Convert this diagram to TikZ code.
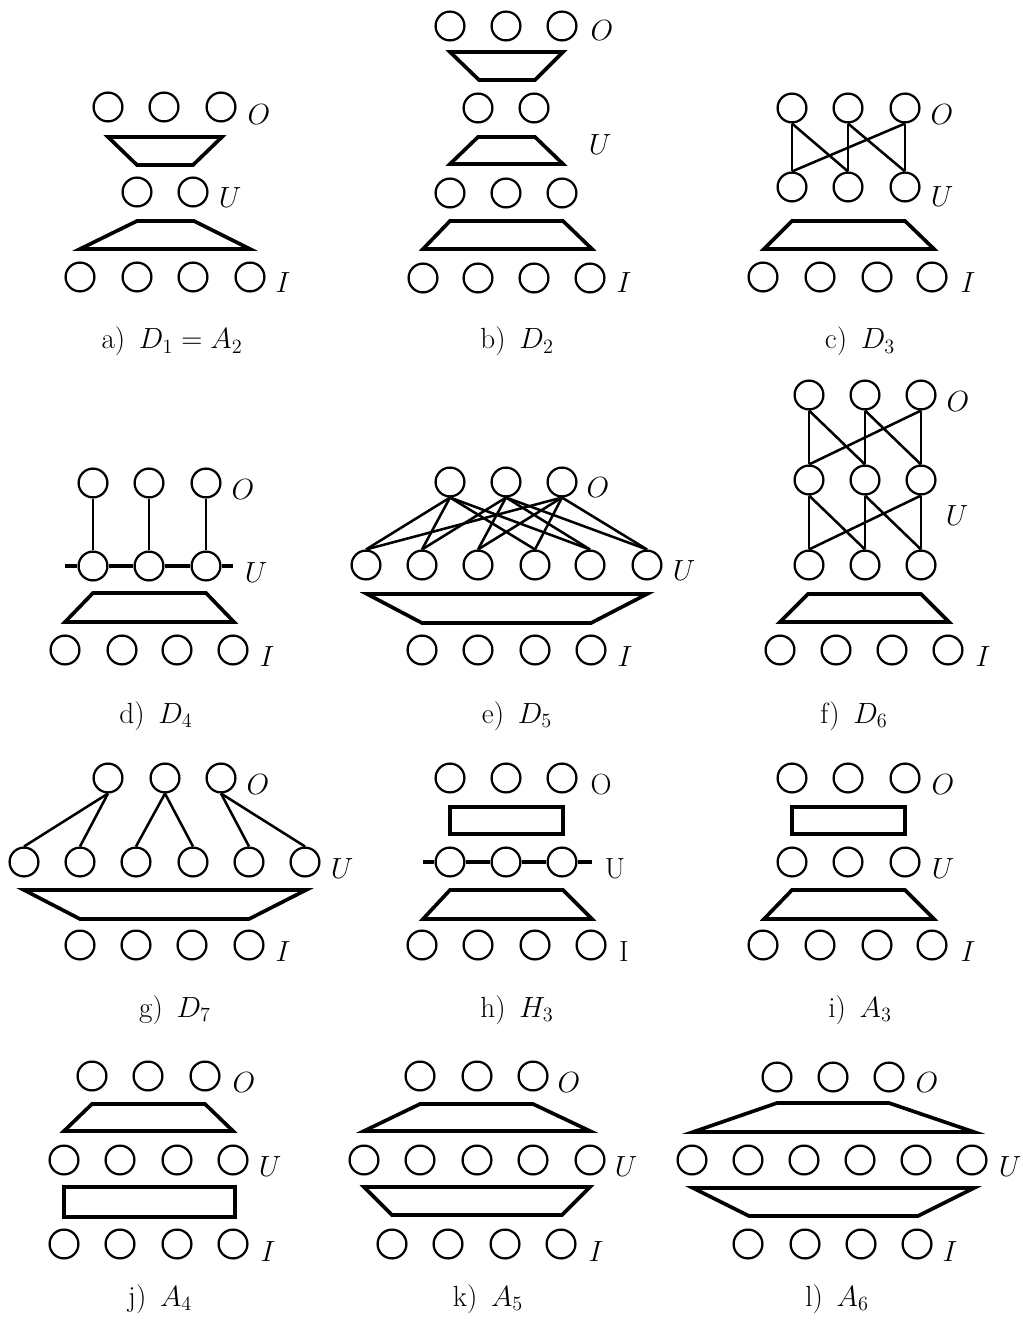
\documentclass[tikz,border=0pt]{standalone}
\usepackage{fontspec}
\usepackage{amsmath}
\usetikzlibrary{positioning}

\begin{document}
\begin{tikzpicture}[
  x=0.025cm, y=-0.025cm,
  neuron/.style={circle, draw, fill=white, minimum size=0.72cm, inner sep=0pt, line width=1.6pt},
  link/.style={line width=1.8pt},
  slab/.style={line width=2.6pt},
  bar/.style={line width=2.6pt},
  layername/.style={font=\huge, inner sep=0pt},
  subcap/.style={font=\huge, anchor=base, inner sep=0pt},
]
  \useasboundingbox (0,0) rectangle (1023,1325);

  % a) D1 = A2
  \draw[slab] (108,137) -- (222,137) -- (193,165) -- (137,165) -- cycle;
  \draw[slab] (137,221) -- (194,221) -- (250,249) -- (80,249) -- cycle;
  \foreach \x [count=\i] in {108,164,221} \node[neuron] (aO\i) at (\x,107) {};
  \foreach \x [count=\i] in {137,193} \node[neuron] (aU\i) at (\x,192) {};
  \foreach \x [count=\i] in {80,137,193,250} \node[neuron] (aI\i) at (\x,277) {};
  \node[layername] (aOn) at (259,115) {$O$};
  \node[layername] (aUn) at (230,198) {$U$};
  \node[layername] (aIn) at (283,283) {$I$};
  \node[subcap] (capa) at (172,349) {a) \,$D_1 = A_2$};

  % b) D2
  \draw[slab] (450,52) -- (563,52) -- (535,80) -- (479,80) -- cycle;
  \draw[slab] (478,137) -- (535,137) -- (563,164) -- (450,164) -- cycle;
  \draw[slab] (450,221) -- (563,221) -- (592,249) -- (423,249) -- cycle;
  \foreach \x [count=\i] in {450,506,562} \node[neuron] (bO\i) at (\x,26) {};
  \foreach \x [count=\i] in {478,534} \node[neuron] (bU\i) at (\x,108) {};
  \foreach \x [count=\i] in {450,506,562} \node[neuron] (bV\i) at (\x,193) {};
  \foreach \x [count=\i] in {423,478,534,590} \node[neuron] (bI\i) at (\x,278) {};
  \node[layername] (bOn) at (602,31) {$O$};
  \node[layername] (bUn) at (600,145) {$U$};
  \node[layername] (bIn) at (624,283) {$I$};
  \node[subcap] (capb) at (517,349) {b) \,$D_2$};

  % c) D3
  \draw[slab] (792,221) -- (905,221) -- (934,249) -- (764,249) -- cycle;
  \foreach \x [count=\i] in {792,848,905} \node[neuron] (cO\i) at (\x,108) {};
  \foreach \x [count=\i] in {792,848,905} \node[neuron] (cU\i) at (\x,187) {};
  \foreach \x [count=\i] in {763,820,877,932} \node[neuron] (cI\i) at (\x,277) {};
  \foreach \s/\t in {1/1,1/2,2/2,2/3,3/1,3/3} \draw[link] (cO\s.south) -- (cU\t.north);
  \node[layername] (cOn) at (942,115) {$O$};
  \node[layername] (cUn) at (942,197) {$U$};
  \node[layername] (cIn) at (968,283) {$I$};
  \node[subcap] (capc) at (860,349) {c) \,$D_3$};

  % d) D4
  \draw[slab] (93,593) -- (206,593) -- (234,622) -- (65,622) -- cycle;
  \foreach \x [count=\i] in {93,149,206} \node[neuron] (dO\i) at (\x,483) {};
  \foreach \x [count=\i] in {93,149,206} \node[neuron] (dU\i) at (\x,566) {};
  \foreach \x [count=\i] in {65,122,177,233} \node[neuron] (dI\i) at (\x,650) {};
  \coordinate (dL) at (65,566);
  \coordinate (dR) at (233,566);
  \draw[bar] (dL) -- (dU1) -- (dU2) -- (dU3) -- (dR);
  \foreach \i in {1,2,3} \draw[link] (dO\i.south) -- (dU\i.north);
  \node[layername] (dOn) at (243,490) {$O$};
  \node[layername] (dUn) at (256,573) {$U$};
  \node[layername] (dIn) at (267,657) {$I$};
  \node[subcap] (capd) at (156,723) {d) \,$D_4$};

  % e) D5
  \draw[slab] (367,594) -- (647,594) -- (591,623) -- (422,623) -- cycle;
  \foreach \x [count=\i] in {450,506,562} \node[neuron] (eO\i) at (\x,482) {};
  \foreach \x [count=\i] in {366,422,478,535,590,647} \node[neuron] (eU\i) at (\x,565) {};
  \foreach \x [count=\i] in {422,478,535,591} \node[neuron] (eI\i) at (\x,650) {};
  \foreach \s/\t in {1/1,1/2,1/4,1/5,2/2,2/3,2/5,2/6,3/1,3/3,3/4,3/6}
    \draw[link] (eO\s.south) -- (eU\t.north);
  \node[layername] (eOn) at (598,488) {$O$};
  \node[layername] (eUn) at (684,571) {$U$};
  \node[layername] (eIn) at (625,657) {$I$};
  \node[subcap] (cape) at (517,723) {e) \,$D_5$};

  % f) D6
  \draw[slab] (808,594) -- (921,594) -- (949,622) -- (780,622) -- cycle;
  \foreach \x [count=\i] in {809,865,921} {
    \node[neuron] (fO\i) at (\x,395) {};
    \node[neuron] (fM\i) at (\x,480) {};
    \node[neuron] (fU\i) at (\x,565) {};
  }
  \foreach \x [count=\i] in {780,836,892,948} \node[neuron] (fI\i) at (\x,650) {};
  \foreach \s/\t in {1/1,1/2,2/2,2/3,3/1,3/3} {
    \draw[link] (fO\s.south) -- (fM\t.north);
    \draw[link] (fM\s.south) -- (fU\t.north);
  }
  \node[layername] (fOn) at (958,402) {$O$};
  \node[layername] (fUn) at (957,516) {$U$};
  \node[layername] (fIn) at (983,657) {$I$};
  \node[subcap] (capf) at (854,723) {f) \,$D_6$};

  % g) D7
  \draw[slab] (24,890) -- (306,890) -- (249,919) -- (80,919) -- cycle;
  \foreach \x [count=\i] in {108,165,221} \node[neuron] (gO\i) at (\x,778) {};
  \foreach \x [count=\i] in {24,80,136,193,249,305} \node[neuron] (gU\i) at (\x,862) {};
  \foreach \x [count=\i] in {80,136,192,249} \node[neuron] (gI\i) at (\x,945) {};
  \foreach \s/\t in {1/1,1/2,2/3,2/4,3/5,3/6} \draw[link] (gO\s.south) -- (gU\t.north);
  \node[layername] (gOn) at (258,785) {$O$};
  \node[layername] (gUn) at (342,869) {$U$};
  \node[layername] (gIn) at (283,952) {$I$};
  \node[subcap] (capg) at (175,1017) {g) \,$D_7$};

  % h) H3
  \draw[slab] (450,807) rectangle (563,834);
  \draw[slab] (450,890) -- (563,890) -- (592,919) -- (423,919) -- cycle;
  \foreach \x [count=\i] in {450,506,562} \node[neuron] (hO\i) at (\x,778) {};
  \foreach \x [count=\i] in {450,506,562} \node[neuron] (hU\i) at (\x,862) {};
  \foreach \x [count=\i] in {422,478,535,591} \node[neuron] (hI\i) at (\x,945) {};
  \coordinate (hL) at (423,862);
  \coordinate (hR) at (592,862);
  \draw[bar] (hL) -- (hU1) -- (hU2) -- (hU3) -- (hR);
  \node[layername] (hOn) at (601,785) {O};
  \node[layername] (hUn) at (615,869) {U};
  \node[layername] (hIn) at (624,952) {I};
  \node[subcap] (caph) at (517,1017) {h) \,$H_3$};

  % i) A3
  \draw[slab] (792,807) rectangle (905,834);
  \draw[slab] (792,890) -- (905,890) -- (934,919) -- (764,919) -- cycle;
  \foreach \x [count=\i] in {792,848,905} \node[neuron] (iO\i) at (\x,778) {};
  \foreach \x [count=\i] in {792,848,905} \node[neuron] (iU\i) at (\x,862) {};
  \foreach \x [count=\i] in {763,820,877,932} \node[neuron] (iI\i) at (\x,945) {};
  \node[layername] (iOn) at (943,785) {$O$};
  \node[layername] (iUn) at (943,869) {$U$};
  \node[layername] (iIn) at (968,952) {$I$};
  \node[subcap] (capi) at (860,1017) {i) \,$A_3$};

  % j) A4
  \draw[slab] (92,1104) -- (205,1104) -- (233,1131) -- (64,1131) -- cycle;
  \draw[slab] (64,1187) rectangle (235,1217);
  \foreach \x [count=\i] in {92,148,205} \node[neuron] (jO\i) at (\x,1076) {};
  \foreach \x [count=\i] in {64,120,177,233} {
    \node[neuron] (jU\i) at (\x,1160) {};
    \node[neuron] (jI\i) at (\x,1244) {};
  }
  \node[layername] (jOn) at (244,1083) {$O$};
  \node[layername] (jUn) at (270,1167) {$U$};
  \node[layername] (jIn) at (268,1252) {$I$};
  \node[subcap] (capj) at (160,1306) {j) \,$A_4$};

  % k) A5
  \draw[slab] (420,1104) -- (533,1104) -- (590,1131) -- (364,1131) -- cycle;
  \draw[slab] (364,1187) -- (590,1187) -- (562,1215) -- (392,1215) -- cycle;
  \foreach \x [count=\i] in {420,477,533} \node[neuron] (kO\i) at (\x,1076) {};
  \foreach \x [count=\i] in {364,420,477,533,590} \node[neuron] (kU\i) at (\x,1160) {};
  \foreach \x [count=\i] in {392,448,505,561} \node[neuron] (kI\i) at (\x,1244) {};
  \node[layername] (kOn) at (569,1083) {$O$};
  \node[layername] (kUn) at (626,1167) {$U$};
  \node[layername] (kIn) at (596,1252) {$I$};
  \node[subcap] (capk) at (488,1306) {k) \,$A_5$};

  % l) A6
  \draw[slab] (777,1103) -- (889,1103) -- (974,1132) -- (693,1132) -- cycle;
  \draw[slab] (693,1188) -- (974,1188) -- (918,1216) -- (749,1216) -- cycle;
  \foreach \x [count=\i] in {777,833,889} \node[neuron] (lO\i) at (\x,1077) {};
  \foreach \x [count=\i] in {692,748,804,860,916,972} \node[neuron] (lU\i) at (\x,1160) {};
  \foreach \x [count=\i] in {748,805,861,917} \node[neuron] (lI\i) at (\x,1244) {};
  \node[layername] (lOn) at (927,1083) {$O$};
  \node[layername] (lUn) at (1010,1167) {$U$};
  \node[layername] (lIn) at (950,1252) {$I$};
  \node[subcap] (capl) at (837,1306) {l) \,$A_6$};
\end{tikzpicture}
\end{document}
